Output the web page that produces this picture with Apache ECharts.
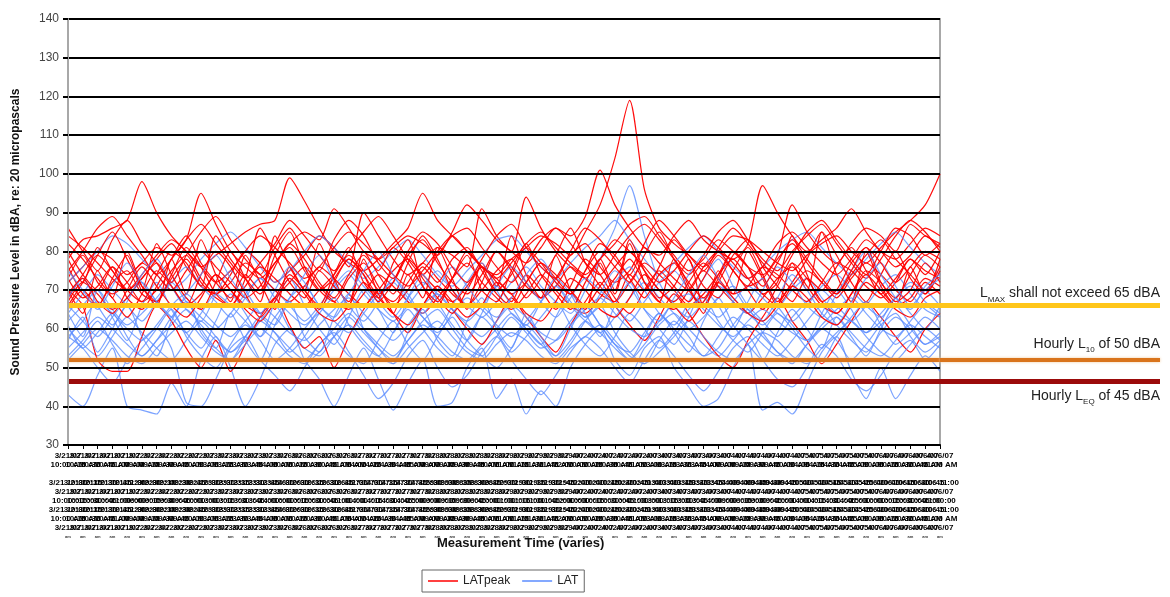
<!DOCTYPE html>
<html>
<head>
<meta charset="utf-8">
<title>Sound Pressure Level</title>
<script src="https://cdn.jsdelivr.net/npm/echarts@6/dist/echarts.min.js"></script>
<style>
  html, body { margin: 0; padding: 0; background: #fff; }
  #chart { width: 1170px; height: 597px; }
</style>
</head>
<body>
<div id="chart"></div>
<script>
  // measurement times (category axis)
  const categories = ['3/21 10:00', '3/21 10:15', '3/21 10:30', '3/21 10:45', '3/21 11:00', '3/22 09:00', '3/22 09:15', '3/22 09:30', '3/22 09:45', '3/22 10:00',
    '3/23 13:00', '3/23 13:15', '3/23 13:30', '3/23 13:45', '3/23 14:00', '3/26 10:00', '3/26 10:15', '3/26 10:30', '3/26 10:45', '3/26 11:00',
    '3/27 14:00', '3/27 14:15', '3/27 14:30', '3/27 14:45', '3/27 15:00', '3/28 09:00', '3/28 09:15', '3/28 09:30', '3/28 09:45', '3/28 10:00',
    '3/29 11:00', '3/29 11:15', '3/29 11:30', '3/29 11:45', '3/29 12:00', '4/02 10:00', '4/02 10:15', '4/02 10:30', '4/02 10:45', '4/02 11:00',
    '4/03 13:00', '4/03 13:15', '4/03 13:30', '4/03 13:45', '4/03 14:00', '4/04 09:00', '4/04 09:15', '4/04 09:30', '4/04 09:45', '4/04 10:00',
    '4/05 14:00', '4/05 14:15', '4/05 14:30', '4/05 14:45', '4/05 15:00', '4/06 10:00', '4/06 10:15', '4/06 10:30', '4/06 10:45', '4/06 11:00'];

  const yTicks = [30, 40, 50, 60, 70, 80, 90, 100, 110, 120, 130, 140];

  // LATpeak runs
  const latPeak1 = [78, 83, 84, 86, 88, 98, 90, 84, 80, 76, 79, 82, 85, 87, 88, 99, 93, 86, 80, 77, 75, 78, 82, 86, 95, 88, 84, 80, 76, 74, 78, 81, 84, 82, 79, 85, 92, 104, 119, 96, 86, 82, 79, 76, 80, 84, 83, 80, 77, 75, 79, 82, 84, 80, 77, 81, 85, 88, 92, 100];
  const latPeak2 = [72, 76, 80, 78, 74, 77, 81, 79, 83, 95, 87, 80, 76, 73, 77, 82, 85, 83, 91, 86, 80, 78, 81, 84, 82, 79, 85, 92, 88, 83, 80, 77, 81, 86, 84, 89, 101, 92, 86, 81, 79, 84, 88, 83, 80, 78, 82, 97, 90, 84, 80, 83, 86, 91, 85, 80, 78, 82, 86, 84];
  const latPeak3 = [68, 74, 79, 75, 70, 73, 78, 82, 76, 71, 69, 74, 80, 77, 72, 75, 79, 84, 81, 76, 90, 84, 78, 74, 77, 81, 79, 76, 91, 84, 80, 94, 86, 80, 76, 73, 78, 82, 87, 89, 84, 79, 75, 78, 83, 80, 76, 74, 79, 92, 85, 80, 77, 82, 86, 84, 80, 87, 84, 82];
  const latPeak4 = [65, 70, 66, 72, 75, 69, 67, 73, 78, 72, 68, 66, 71, 76, 73, 69, 66, 70, 74, 79, 75, 70, 67, 72, 77, 73, 69, 66, 70, 75, 78, 72, 68, 71, 76, 73, 69, 67, 72, 77, 74, 70, 66, 69, 74, 78, 73, 69, 66, 71, 75, 72, 68, 73, 77, 74, 70, 67, 72, 69];
  const latPeak5 = [82, 78, 73, 69, 72, 77, 74, 70, 75, 80, 76, 72, 68, 71, 77, 81, 75, 70, 73, 78, 74, 69, 72, 79, 83, 77, 72, 69, 74, 80, 76, 71, 68, 73, 79, 82, 76, 72, 75, 81, 77, 73, 70, 76, 80, 75, 71, 73, 78, 82, 77, 72, 69, 74, 79, 83, 78, 74, 70, 76];
  const latPeak6 = [70, 66, 52, 49, 49, 58, 66, 62, 55, 50, 57, 49, 56, 63, 68, 61, 55, 58, 50, 58, 65, 70, 64, 59, 66, 71, 65, 60, 56, 62, 68, 63, 58, 54, 61, 67, 72, 66, 61, 57, 63, 69, 64, 58, 53, 50, 57, 63, 68, 62, 57, 51, 56, 62, 67, 63, 58, 54, 60, 64];
  const latPeak7 = [75, 80, 86, 89, 84, 79, 74, 78, 83, 87, 82, 77, 73, 77, 82, 88, 84, 79, 75, 80, 85, 89, 84, 78, 74, 79, 84, 86, 81, 76, 72, 77, 83, 86, 82, 77, 74, 79, 84, 87, 83, 78, 74, 79, 85, 88, 83, 78, 75, 80, 84, 87, 82, 77, 73, 78, 84, 88, 85, 80];
  const latPeak8 = [67, 72, 69, 65, 68, 73, 77, 71, 66, 69, 74, 70, 66, 64, 68, 72, 76, 71, 67, 65, 69, 74, 71, 67, 64, 68, 73, 77, 72, 68, 65, 69, 74, 70, 66, 64, 68, 73, 78, 72, 67, 65, 70, 75, 71, 67, 64, 68, 73, 76, 71, 66, 64, 69, 74, 70, 66, 68, 73, 71];
  const latPeak9 = [84, 81, 77, 73, 70, 74, 79, 83, 80, 76, 72, 75, 80, 84, 81, 77, 73, 76, 81, 85, 82, 78, 74, 71, 75, 80, 84, 80, 76, 73, 77, 82, 85, 81, 77, 74, 78, 83, 80, 76, 72, 75, 80, 84, 81, 77, 73, 76, 82, 85, 81, 77, 74, 78, 83, 80, 76, 79, 84, 81];
  const latPeak10 = [73, 68, 71, 76, 72, 67, 70, 75, 79, 73, 69, 72, 77, 74, 70, 67, 71, 76, 73, 69, 66, 70, 75, 78, 74, 70, 67, 71, 76, 73, 69, 72, 77, 74, 70, 66, 71, 76, 80, 75, 70, 67, 72, 77, 73, 69, 71, 76, 74, 70, 67, 72, 77, 75, 71, 68, 72, 78, 75, 73];
  const latPeak11 = [70, 64, 75, 68, 80, 71, 66, 78, 69, 83, 74, 67, 79, 72, 65, 76, 70, 82, 73, 66, 78, 69, 64, 74, 68, 81, 73, 65, 77, 71, 84, 74, 68, 79, 70, 65, 77, 69, 82, 72, 67, 78, 71, 64, 75, 69, 80, 73, 66, 77, 70, 85, 74, 67, 80, 71, 66, 76, 69, 78];
  const latPeak12 = [76, 69, 66, 73, 79, 70, 82, 74, 68, 65, 72, 80, 73, 67, 84, 76, 70, 66, 74, 81, 72, 68, 77, 83, 71, 66, 73, 79, 70, 67, 75, 82, 74, 69, 65, 72, 78, 70, 83, 75, 68, 71, 78, 66, 73, 80, 76, 69, 72, 84, 74, 67, 70, 77, 81, 72, 68, 74, 79, 76];
  const latPeak13 = [66, 72, 79, 85, 78, 71, 67, 74, 81, 76, 69, 66, 73, 86, 79, 72, 68, 75, 71, 67, 80, 74, 69, 77, 84, 78, 70, 66, 72, 80, 75, 68, 73, 79, 86, 77, 71, 67, 74, 70, 76, 83, 78, 71, 68, 75, 81, 74, 67, 72, 78, 85, 79, 72, 67, 74, 80, 73, 69, 75];
  const latPeak14 = [80, 74, 70, 76, 68, 65, 71, 78, 84, 77, 72, 68, 74, 70, 79, 85, 76, 70, 67, 73, 77, 71, 66, 70, 76, 72, 78, 81, 75, 69, 66, 72, 77, 73, 69, 75, 82, 79, 73, 68, 74, 77, 70, 66, 72, 79, 83, 76, 71, 67, 73, 70, 76, 81, 75, 69, 73, 78, 74, 80];
  const latPeak15 = [73, 79, 72, 68, 63, 69, 75, 71, 66, 74, 80, 76, 69, 63, 68, 74, 70, 65, 72, 78, 74, 67, 72, 79, 73, 68, 64, 70, 76, 72, 67, 74, 70, 65, 71, 78, 74, 68, 64, 70, 75, 71, 67, 73, 79, 75, 70, 65, 71, 77, 73, 67, 64, 69, 75, 72, 67, 70, 77, 72];
  const latPeak16 = [86, 80, 75, 83, 88, 82, 77, 72, 79, 85, 89, 83, 78, 74, 81, 86, 80, 75, 83, 88, 84, 77, 73, 80, 85, 82, 76, 72, 78, 84, 87, 81, 76, 73, 80, 86, 83, 78, 74, 82, 88, 84, 79, 75, 81, 86, 82, 77, 73, 79, 85, 88, 83, 78, 74, 80, 86, 84, 79, 82];
  const latPeak17 = [69, 73, 67, 64, 70, 76, 71, 66, 63, 68, 74, 70, 65, 62, 67, 73, 69, 64, 62, 66, 72, 68, 64, 61, 66, 71, 67, 63, 66, 72, 69, 64, 62, 67, 73, 70, 65, 63, 68, 74, 70, 66, 62, 67, 72, 68, 64, 62, 66, 71, 68, 63, 61, 66, 72, 69, 65, 63, 68, 70];
  const latPeak18 = [78, 72, 81, 75, 70, 67, 74, 80, 77, 71, 84, 78, 73, 69, 76, 82, 78, 72, 68, 74, 79, 75, 81, 77, 71, 67, 73, 80, 76, 70, 74, 81, 77, 72, 69, 75, 80, 76, 72, 79, 85, 78, 72, 68, 74, 80, 76, 71, 77, 83, 78, 73, 69, 75, 81, 77, 72, 76, 80, 78];

  // LAT runs
  const lat1 = [43, 40, 48, 55, 40, 39, 38, 46, 40, 52, 58, 50, 40, 47, 56, 60, 52, 47, 40, 48, 55, 47, 39, 46, 52, 40, 41, 50, 55, 42, 47, 38, 44, 40, 50, 56, 60, 52, 48, 55, 58, 50, 45, 40, 42, 50, 56, 39, 41, 38, 46, 54, 58, 49, 42, 50, 42, 48, 53, 49];
  const lat2 = [58, 55, 50, 46, 52, 57, 60, 55, 41, 40, 47, 55, 58, 52, 48, 44, 50, 56, 59, 54, 48, 42, 46, 53, 57, 50, 45, 48, 54, 58, 52, 47, 43, 48, 54, 58, 55, 50, 46, 52, 57, 53, 48, 44, 49, 55, 58, 52, 47, 45, 50, 56, 53, 47, 44, 48, 54, 57, 52, 56];
  const lat3 = [60, 56, 53, 58, 63, 59, 55, 52, 57, 62, 58, 54, 57, 62, 66, 60, 55, 53, 58, 63, 59, 55, 52, 57, 62, 65, 60, 55, 53, 58, 63, 59, 55, 57, 62, 66, 61, 56, 54, 59, 64, 60, 56, 53, 58, 63, 60, 56, 53, 57, 62, 66, 61, 57, 54, 59, 63, 60, 56, 58];
  const lat4 = [72, 76, 80, 84, 82, 78, 74, 70, 73, 78, 82, 85, 81, 76, 72, 75, 80, 84, 81, 77, 73, 76, 80, 83, 79, 74, 71, 75, 79, 83, 84, 80, 76, 73, 77, 81, 84, 88, 83, 78, 74, 77, 81, 84, 80, 76, 73, 76, 80, 83, 85, 81, 77, 74, 78, 82, 85, 81, 77, 74];
  const lat5 = [62, 66, 70, 65, 61, 64, 68, 72, 67, 63, 60, 64, 69, 73, 68, 64, 61, 65, 70, 74, 69, 65, 62, 66, 71, 75, 70, 66, 63, 67, 72, 76, 71, 67, 64, 70, 78, 86, 97, 84, 72, 66, 63, 67, 71, 68, 64, 61, 65, 70, 73, 68, 64, 62, 66, 71, 74, 69, 65, 63];
  const lat6 = [55, 59, 63, 60, 56, 53, 57, 61, 65, 61, 57, 54, 58, 62, 59, 55, 52, 56, 60, 64, 60, 56, 53, 57, 61, 58, 54, 52, 56, 60, 64, 60, 56, 53, 57, 62, 59, 55, 52, 56, 61, 64, 60, 56, 53, 57, 61, 58, 54, 52, 56, 60, 63, 59, 55, 53, 57, 61, 58, 55];
  const lat7 = [66, 62, 58, 63, 68, 72, 67, 63, 59, 64, 69, 66, 62, 58, 63, 68, 71, 66, 62, 59, 64, 69, 72, 67, 63, 59, 64, 68, 65, 61, 58, 62, 67, 71, 66, 62, 59, 63, 68, 72, 68, 64, 60, 63, 68, 71, 66, 62, 58, 63, 67, 70, 66, 62, 59, 64, 68, 71, 67, 64];
  const lat8 = [52, 56, 60, 57, 53, 51, 55, 59, 62, 58, 54, 52, 56, 60, 57, 53, 51, 54, 58, 61, 57, 53, 51, 55, 59, 62, 58, 54, 52, 56, 59, 57, 53, 51, 55, 58, 61, 57, 53, 51, 54, 58, 62, 58, 54, 52, 56, 59, 57, 53, 51, 55, 59, 62, 58, 54, 52, 56, 60, 57];
  const lat9 = [64, 69, 74, 70, 66, 62, 67, 72, 76, 71, 67, 63, 68, 73, 70, 66, 62, 66, 71, 75, 71, 67, 63, 68, 72, 69, 65, 62, 66, 71, 76, 72, 67, 63, 68, 73, 70, 66, 62, 67, 72, 75, 70, 66, 63, 67, 71, 68, 64, 62, 66, 71, 74, 70, 66, 63, 68, 72, 70, 66];
  const lat10 = [58, 62, 67, 64, 60, 57, 61, 66, 69, 65, 61, 58, 62, 66, 63, 59, 57, 61, 65, 68, 64, 60, 57, 61, 66, 69, 65, 61, 58, 62, 66, 63, 59, 57, 61, 65, 68, 64, 60, 58, 62, 67, 69, 65, 61, 58, 62, 65, 62, 59, 57, 61, 65, 68, 64, 60, 58, 62, 66, 63];
  const lat11 = [57, 63, 54, 60, 66, 58, 53, 62, 68, 59, 55, 64, 57, 52, 61, 67, 58, 54, 63, 69, 60, 55, 51, 59, 65, 57, 53, 62, 68, 60, 55, 64, 58, 53, 60, 66, 61, 56, 52, 58, 64, 59, 54, 62, 68, 61, 56, 52, 59, 65, 60, 55, 63, 58, 53, 60, 66, 61, 56, 59];
  const lat12 = [64, 58, 70, 63, 57, 66, 72, 65, 59, 55, 62, 69, 64, 58, 67, 73, 66, 60, 56, 63, 70, 65, 59, 68, 74, 67, 61, 57, 64, 71, 66, 60, 56, 63, 69, 64, 58, 66, 72, 65, 60, 56, 63, 70, 66, 60, 67, 73, 66, 61, 57, 64, 70, 65, 59, 62, 68, 64, 60, 66];
  const lat13 = [53, 57, 62, 56, 51, 55, 60, 65, 58, 53, 50, 56, 61, 57, 52, 55, 60, 64, 58, 53, 51, 57, 62, 56, 52, 58, 63, 57, 53, 50, 55, 61, 57, 52, 56, 62, 66, 59, 54, 51, 57, 62, 58, 53, 55, 61, 65, 59, 54, 51, 56, 60, 57, 52, 56, 61, 64, 58, 54, 57];
  const lat14 = [68, 73, 66, 61, 67, 74, 78, 71, 65, 62, 69, 75, 70, 64, 61, 68, 74, 79, 72, 66, 62, 67, 73, 69, 63, 60, 66, 72, 77, 70, 64, 61, 67, 73, 69, 63, 66, 72, 76, 70, 64, 61, 67, 73, 78, 71, 65, 62, 68, 74, 70, 64, 61, 67, 73, 77, 71, 66, 70, 73];
  const lat15 = [61, 55, 59, 64, 58, 53, 57, 63, 67, 60, 55, 52, 58, 63, 59, 54, 58, 64, 68, 61, 56, 53, 59, 65, 60, 55, 52, 57, 63, 59, 54, 58, 63, 67, 61, 56, 53, 58, 64, 60, 55, 59, 65, 68, 62, 57, 54, 59, 64, 60, 55, 52, 58, 63, 67, 61, 56, 59, 63, 60];
  const lat16 = [75, 70, 65, 71, 77, 72, 67, 63, 69, 74, 79, 73, 68, 64, 70, 76, 72, 66, 63, 69, 75, 80, 74, 68, 64, 70, 76, 71, 66, 63, 68, 74, 78, 72, 67, 63, 69, 75, 71, 65, 62, 68, 74, 79, 73, 67, 64, 70, 76, 72, 66, 63, 69, 75, 80, 74, 68, 65, 71, 74];

  // criteria lines (dBA)
  const lmaxLimit = 66;
  const l10Limit = 52;
  const leqLimit = 46.5;

  const peakRuns = [latPeak1, latPeak2, latPeak3, latPeak4, latPeak5, latPeak6, latPeak7, latPeak8, latPeak9,
    latPeak10, latPeak11, latPeak12, latPeak13, latPeak14, latPeak15, latPeak16, latPeak17, latPeak18];
  const latRuns = [lat1, lat2, lat3, lat4, lat5, lat6, lat7, lat8, lat9, lat10, lat11, lat12, lat13, lat14, lat15, lat16];

  const FONT = 'Arial, "Liberation Sans", sans-serif';
  const RED = '#ff0000';
  const BLUE = '#5b8cff';

  function lineSeries(name, data, color, opacity) {
    return {
      name: name,
      type: 'line',
      data: data,
      xAxisIndex: 0,
      yAxisIndex: 0,
      symbol: 'none',
      smooth: 0.25,
      z: 3,
      silent: true,
      lineStyle: { color: color, width: 1.2, opacity: opacity },
      itemStyle: { color: color }
    };
  }

  let seriesList = [];
  // interleave red and blue so neither fully covers the other
  for (let i = 0; i < peakRuns.length; i++) {
    if (latRuns[i]) {
      seriesList.push(lineSeries('LAT', latRuns[i], BLUE, 0.8));
    }
    seriesList.push(lineSeries('LATpeak', peakRuns[i], RED, 0.95));
  }

  const limitLines = [
    { yAxis: lmaxLimit, lineStyle: { color: '#ffc61a', width: 5, type: 'solid' } },
    { yAxis: l10Limit, lineStyle: { color: '#d9741c', width: 4, type: 'solid', shadowBlur: 3, shadowColor: '#f0c89c' } },
    { yAxis: leqLimit, lineStyle: { color: '#9b0a0a', width: 5, type: 'solid' } }
  ];

  // limit lines inside the plot, under the runs
  seriesList.push({
    type: 'line',
    xAxisIndex: 0,
    yAxisIndex: 0,
    data: categories.map(() => null),
    symbol: 'none',
    z: 1,
    silent: true,
    markLine: {
      silent: true,
      symbol: ['none', 'none'],
      label: { show: false },
      data: limitLines.map(l => Object.assign({}, l))
    }
  });

  // limit lines continued to the right of the plot with their labels
  const sub = { fontSize: 8, fontFamily: FONT, color: '#222', verticalAlign: 'bottom', padding: [0, 0, -3, 0] };
  const txt = { fontSize: 14, fontFamily: FONT, color: '#222' };
  seriesList.push({
    type: 'line',
    xAxisIndex: 1,
    yAxisIndex: 1,
    data: [[0, null], [1, null]],
    symbol: 'none',
    silent: true,
    markLine: {
      silent: true,
      symbol: ['none', 'none'],
      data: [
        Object.assign({}, limitLines[0], {
          label: {
            show: true, position: 'insideEndTop', distance: [0, 5],
            formatter: '{t|L}{s|MAX}{t| shall not exceed 65 dBA}',
            rich: { t: txt, s: sub }
          }
        }),
        Object.assign({}, limitLines[1], {
          label: {
            show: true, position: 'insideEndTop', distance: [0, 9],
            formatter: '{t|Hourly L}{s|10}{t| of 50 dBA}',
            rich: { t: txt, s: sub }
          }
        }),
        Object.assign({}, limitLines[2], {
          label: {
            show: true, position: 'insideEndBottom', distance: [0, 8],
            formatter: '{t|Hourly L}{s|EQ}{t| of 45 dBA}',
            rich: { t: txt, s: sub }
          }
        })
      ]
    }
  });

  const chart = echarts.init(document.getElementById('chart'), null, { renderer: 'canvas' });
  chart.setOption({
    animation: false,
    backgroundColor: '#fff',
    textStyle: { fontFamily: FONT },
    legend: {
      data: ['LATpeak', 'LAT'],
      left: 422,
      top: 570,
      icon: 'rect',
      itemWidth: 30,
      itemHeight: 1.5,
      itemGap: 12,
      padding: [5, 6],
      borderColor: '#666',
      borderWidth: 1,
      textStyle: { fontSize: 12, color: '#222', fontFamily: FONT }
    },
    graphic: [{
      type: 'text',
      left: 437,
      top: 537,
      z: 10,
      style: { text: 'Measurement Time (varies)', font: 'bold 13px ' + FONT, fill: '#111' }
    }],
    grid: [
      { left: 68, top: 19, width: 872, height: 426, show: true, borderColor: '#a8a8a8', borderWidth: 2 },
      { left: 940, top: 19, width: 220, height: 426 }
    ],
    xAxis: [{
      type: 'category',
      gridIndex: 0,
      data: categories,
      boundaryGap: false,
      z: 6,
      axisLine: { show: true, lineStyle: { color: '#000', width: 2 } },
      axisTick: { show: true, interval: 0, length: 4, lineStyle: { color: '#000', width: 1 } },
      axisLabel: {
        interval: 0,
        fontSize: 8,
        fontWeight: 'bold',
        lineHeight: 9,
        color: '#000',
        margin: 6,
        formatter: function (value) {
          let parts = value.split(' ');
          let d = parts[0], t = parts[1];
          return d + '/07\n' + t + ' AM\n\n' + d + ' ' + t + '\n' + d + '/07\n' + t + ':00\n' +
            d + ' ' + t + '\n' + t + ' AM\n' + d + '/07\n{s|am}';
        },
        rich: { s: { fontSize: 4, color: '#333' } }
      },
      splitLine: { show: false }
    }, {
      type: 'value',
      gridIndex: 1,
      min: 0,
      max: 1,
      show: false
    }],
    yAxis: [{
      type: 'value',
      gridIndex: 0,
      min: yTicks[0],
      max: yTicks[yTicks.length - 1],
      interval: 10,
      z: 5, // gridlines sit on top of the runs
      name: 'Sound Pressure Level in dBA, re: 20 micropascals',
      nameLocation: 'middle',
      nameGap: 46,
      nameTextStyle: { fontSize: 12, fontWeight: 'bold', color: '#111', fontFamily: FONT },
      axisLine: { show: true, lineStyle: { color: '#a8a8a8', width: 2 } },
      axisTick: { show: true, length: 5, lineStyle: { color: '#000', width: 2 } },
      axisLabel: { fontSize: 12, color: '#444', margin: 9, fontFamily: FONT },
      splitLine: { show: true, lineStyle: { color: '#000', width: 2 } }
    }, {
      type: 'value',
      gridIndex: 1,
      min: yTicks[0],
      max: yTicks[yTicks.length - 1],
      show: false
    }],
    series: seriesList
  });
</script>
</body>
</html>
